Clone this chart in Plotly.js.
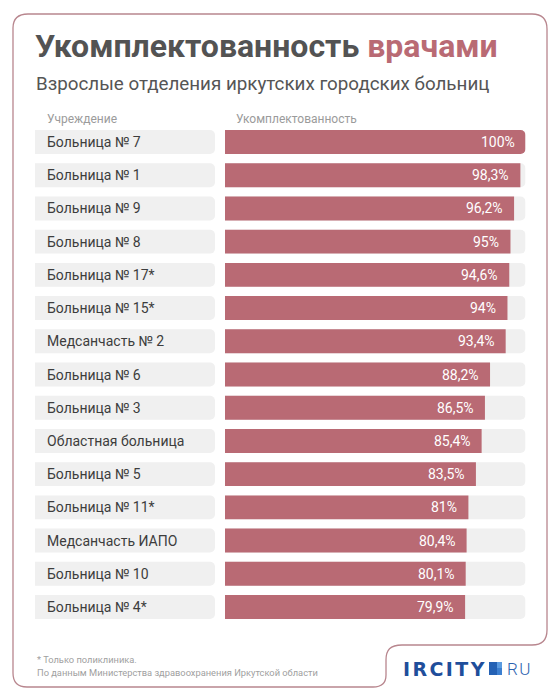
<!DOCTYPE html>
<html>
<head>
<meta charset="utf-8">
<script src="https://cdn.plot.ly/plotly-3.0.1.min.js"></script>
<style>
html,body{margin:0;padding:0;background:#fff;}
#chart{width:560px;height:700px;}
</style>
</head>
<body>
<div id="chart"></div>
<script>
// ---- data ----
const hospitals = [
  "Больница № 7", "Больница № 1", "Больница № 9", "Больница № 8", "Больница № 17*",
  "Больница № 15*", "Медсанчасть № 2", "Больница № 6", "Больница № 3", "Областная больница",
  "Больница № 5", "Больница № 11*", "Медсанчасть ИАПО", "Больница № 10", "Больница № 4*"
];
const staffing = [100, 98.3, 96.2, 95, 94.6, 94, 93.4, 88.2, 86.5, 85.4, 83.5, 81, 80.4, 80.1, 79.9];
const scaleMax = 100;
const titleMain = "Укомплектованность";
const titleAccent = "врачами";
const subtitle = "Взрослые отделения иркутских городских больниц";
const colHeaders = ["Учреждение", "Укомплектованность"];
const footnotes = ["* Только поликлиника.", "По данным Министерства здравоохранения Иркутской области"];

// ---- helpers ----
const W = 560, H = 700;
const px = x => x / W;
const py = y => 1 - y / H;
const fmt = v => String(v).replace('.', ',') + '%';
const FONT = 'Roboto, "Noto Sans", sans-serif';
const BAR = '#b96a74';
const FRAME = '#b8868e';

function pathFrom(cmds) {
  return cmds.map(c => {
    const l = c[0];
    const pts = [];
    for (let i = 1; i < c.length; i += 2) pts.push(px(c[i]).toFixed(5) + ',' + py(c[i + 1]).toFixed(5));
    return l + pts.join(' ');
  }).join(' ') + ' Z';
}

const framePath = pathFrom([
  ['M', 28, 14], ['L', 532, 14], ['Q', 547, 14, 547, 29], ['L', 547, 630],
  ['Q', 547, 645, 532, 645], ['L', 402, 645], ['C', 390, 645, 386, 650, 386, 660],
  ['L', 386, 675], ['Q', 386, 687, 373, 687], ['L', 27, 687], ['Q', 13, 687, 13, 673],
  ['L', 13, 28], ['Q', 13, 14, 28, 14]
]);

// ---- traces ----
const labelBoxes = {
  type: 'bar', orientation: 'h', y: hospitals, x: hospitals.map(() => 1),
  xaxis: 'x2', yaxis: 'y', marker: { color: '#f0f0f0' }, hoverinfo: 'skip', showlegend: false
};
const track = {
  type: 'bar', orientation: 'h', y: hospitals, x: hospitals.map(() => scaleMax),
  xaxis: 'x', yaxis: 'y', marker: { color: '#f0f0f0' }, hoverinfo: 'skip', showlegend: false
};
const values = {
  type: 'bar', orientation: 'h', y: hospitals, x: staffing,
  xaxis: 'x', yaxis: 'y', marker: { color: BAR }, showlegend: false
};

// ---- annotations ----
const annotations = [];
annotations.push({
  xref: 'paper', yref: 'paper', x: px(33), y: py(46), xanchor: 'left', yanchor: 'middle',
  showarrow: false, text: '<b>' + titleMain + ' <span style="color:' + BAR + '">' + titleAccent + '</span></b>',
  font: { family: FONT, size: 32, color: '#535353' }
});
annotations.push({
  xref: 'paper', yref: 'paper', x: px(34), y: py(84), xanchor: 'left', yanchor: 'middle',
  showarrow: false, text: subtitle, font: { family: FONT, size: 18.8, color: '#555555' }
});
annotations.push({
  xref: 'paper', yref: 'paper', x: px(45), y: py(119), xanchor: 'left', yanchor: 'middle',
  showarrow: false, text: colHeaders[0], font: { family: FONT, size: 12, color: '#9b9b9b' }
});
annotations.push({
  xref: 'paper', yref: 'paper', x: px(234), y: py(119), xanchor: 'left', yanchor: 'middle',
  showarrow: false, text: colHeaders[1], font: { family: FONT, size: 12, color: '#9b9b9b' }
});
hospitals.forEach((h, i) => {
  annotations.push({
    xref: 'paper', yref: 'y', x: px(45), y: h, xanchor: 'left', yanchor: 'middle',
    showarrow: false, text: h, font: { family: FONT, size: 14, color: '#3d3d3d' }
  });
  annotations.push({
    xref: 'x', yref: 'y', x: staffing[i], y: h, xanchor: 'right', yanchor: 'middle', xshift: -9,
    showarrow: false, text: fmt(staffing[i]), font: { family: FONT, size: 14, color: '#ffffff' }
  });
});
footnotes.forEach((t, i) => {
  annotations.push({
    xref: 'paper', yref: 'paper', x: px(35), y: py(659 + i * 13), xanchor: 'left', yanchor: 'middle',
    showarrow: false, text: t, font: { family: FONT, size: 9.3, color: '#a0a0a0' }
  });
});
annotations.push({
  xref: 'paper', yref: 'paper', x: px(401), y: py(668.5), xanchor: 'left', yanchor: 'middle',
  showarrow: false, text: '<span style="letter-spacing:2.4px">IRCITY</span>',
  font: { family: '"DejaVu Sans", sans-serif', size: 19, color: '#1f4e9b', weight: 'bold' }
});
annotations.push({
  xref: 'paper', yref: 'paper', x: px(505), y: py(668.5), xanchor: 'left', yanchor: 'middle',
  showarrow: false, text: '<span style="letter-spacing:1.5px">RU</span>',
  font: { family: FONT, size: 17, color: '#2b62b0', weight: 300 }
});

const shapes = [
  { type: 'path', xref: 'paper', yref: 'paper', path: framePath, line: { color: FRAME, width: 1.3 }, fillcolor: 'rgba(0,0,0,0)', layer: 'below' },
  { type: 'rect', xref: 'paper', yref: 'paper', x0: px(489), x1: px(502), y0: py(675), y1: py(662), line: { width: 0 }, fillcolor: '#5b9be0' },
  { type: 'rect', xref: 'paper', yref: 'paper', x0: px(489), x1: px(497), y0: py(675), y1: py(662), line: { width: 0 }, fillcolor: '#2461b4' },
  { type: 'rect', xref: 'paper', yref: 'paper', x0: px(497), x1: px(502), y0: py(675), y1: py(668), line: { width: 0 }, fillcolor: '#3c7fd0' }
];

const layout = {
  width: W, height: H,
  margin: { l: 0, r: 0, t: 0, b: 0 },
  paper_bgcolor: '#ffffff', plot_bgcolor: 'rgba(0,0,0,0)',
  showlegend: false,
  barmode: 'overlay', bargap: 0.28, barcornerradius: 5,
  xaxis: { domain: [px(225), px(525.5)], range: [0, scaleMax], visible: false, fixedrange: true },
  xaxis2: { domain: [px(35), px(215)], range: [0, 1], visible: false, anchor: 'y', fixedrange: true },
  yaxis: { domain: [py(623.6), py(125.4)], autorange: 'reversed', visible: false, type: 'category', fixedrange: true },
  annotations: annotations,
  shapes: shapes,
  font: { family: FONT }
};

Plotly.newPlot('chart', [labelBoxes, track, values], layout, { displayModeBar: false, staticPlot: true });
</script>
</body>
</html>
